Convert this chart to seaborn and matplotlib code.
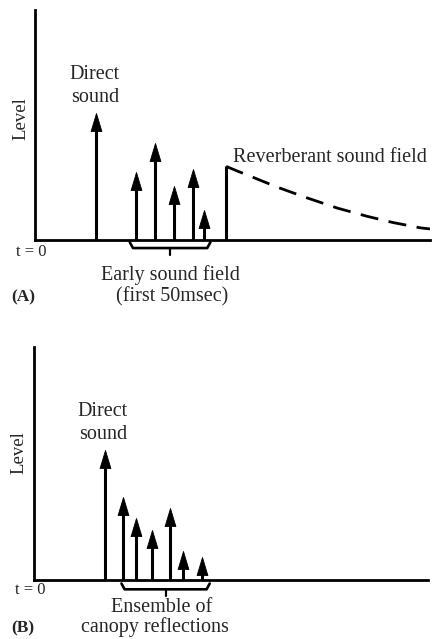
import numpy as np
import matplotlib
matplotlib.use("Agg")
import matplotlib.pyplot as plt
import matplotlib.transforms as mtransforms
from matplotlib.path import Path
import seaborn as sns

# ---- data (time and level in arbitrary units, 0-100) ----
# panel A
a_direct_t = [15.4]
a_direct_level = [55.0]
a_early_t = [25.6, 30.4, 35.2, 40.0, 42.8]
a_early_level = [29.6, 42.0, 23.5, 31.0, 13.0]
a_reverb_t = [48.4, 51.2, 53.7, 61.3, 68.9, 76.5, 84.1, 90.6, 97.5, 100.0]
a_reverb_level = [32.0, 30.0, 28.3, 23.0, 18.3, 13.9, 10.3, 7.6, 5.3, 4.8]

# panel B
b_direct_t = [18.0]
b_direct_level = [55.8]
b_early_t = [22.6, 25.9, 30.0, 34.5, 37.8, 42.6]
b_early_level = [35.6, 26.6, 21.5, 30.9, 12.4, 9.9]

W, H = 432, 639
DPI = 100

sns.set_style("white")
plt.rcParams["font.family"] = ["Liberation Serif", "DejaVu Serif"]

# tall arrowhead marker, tip at the origin
HEAD = Path([(0, 0), (-0.6, -2.0), (0.6, -2.0), (0, 0)],
            [Path.MOVETO, Path.LINETO, Path.LINETO, Path.CLOSEPOLY])


def px_axes(fig, left, top, right, bottom):
    return fig.add_axes([left / W, 1 - bottom / H, (right - left) / W, (bottom - top) / H])


def draw_arrows(ax, t, level):
    ax.vlines(t, 0, np.array(level) - 3, color="black", lw=2.2, zorder=3)
    sns.scatterplot(x=t, y=level, marker=HEAD, s=26 ** 2, color="black",
                    edgecolor="black", linewidth=0.6, ax=ax, zorder=4, legend=False)


def brace(ax, t0, t1, y, depth=0.025, tick=0.03):
    tr = mtransforms.blended_transform_factory(ax.transData, ax.transAxes)
    mid = (t0 + t1) / 2
    ax.plot([t0, t0 + 0.8, t1 - 0.8, t1], [y + depth, y, y, y + depth],
            color="black", lw=1.9, transform=tr, clip_on=False, solid_capstyle="round")
    ax.plot([mid, mid], [y, y - tick], color="black", lw=1.6, transform=tr, clip_on=False)


def style_axes(ax):
    ax.set_xlim(0, 100)
    ax.set_ylim(0, 100)
    for side in ["top", "right"]:
        ax.spines[side].set_visible(False)
    for side in ["left", "bottom"]:
        ax.spines[side].set_linewidth(2.0)
        ax.spines[side].set_color("black")
    ax.set_xticks([])
    ax.set_yticks([])
    ax.set_facecolor("none")


fig = plt.figure(figsize=(W / DPI, H / DPI), dpi=DPI)
fig.patch.set_facecolor("white")

# ---------------- panel A ----------------
axA = px_axes(fig, 35, 10, 430, 240)
style_axes(axA)
draw_arrows(axA, a_direct_t, a_direct_level)
draw_arrows(axA, a_early_t, a_early_level)
axA.vlines(a_reverb_t[0], 0, a_reverb_level[0], color="black", lw=2.2)
sns.lineplot(x=a_reverb_t, y=a_reverb_level, ax=axA, color="black", lw=2.0,
             dashes=False, linestyle=(0, (6.5, 3.8)), sort=False)
brace(axA, min(a_early_t) - 1.6, max(a_early_t) + 1.6, -0.035)

fs = 14.5
fig.text(95 / W, 1 - 86 / H, "Direct\nsound", ha="center", va="center",
         fontsize=fs, linespacing=1.25)
fig.text(21 / W, 1 - 119 / H, "Level", rotation=90, ha="center", va="center", fontsize=13.5)
fig.text(233 / W, 1 - 158 / H, "Reverberant sound field", ha="left", va="center", fontsize=fs)
fig.text(31 / W, 1 - 252 / H, "t = 0", ha="center", va="center", fontsize=12)
fig.text(170 / W, 1 - 275 / H, "Early sound field", ha="center", va="center", fontsize=fs)
fig.text(172 / W, 1 - 297 / H, "(first 50msec)", ha="center", va="center", fontsize=fs)
fig.text(23 / W, 1 - 297 / H, "(A)", ha="center", va="center", fontsize=12.5, fontweight="bold")

# ---------------- panel B ----------------
axB = px_axes(fig, 34, 347, 428, 580)
style_axes(axB)
draw_arrows(axB, b_direct_t, b_direct_level)
draw_arrows(axB, b_early_t, b_early_level)
brace(axB, min(b_early_t) - 0.4, max(b_early_t) + 2.0, -0.04)

fig.text(103 / W, 1 - 423 / H, "Direct\nsound", ha="center", va="center",
         fontsize=fs, linespacing=1.25)
fig.text(19 / W, 1 - 453 / H, "Level", rotation=90, ha="center", va="center", fontsize=13.5)
fig.text(30 / W, 1 - 590 / H, "t = 0", ha="center", va="center", fontsize=12)
fig.text(162 / W, 1 - 608 / H, "Ensemble of", ha="center", va="center", fontsize=fs)
fig.text(155 / W, 1 - 632 / H, "canopy reflections", ha="center", va="baseline", fontsize=fs)
fig.text(23 / W, 1 - 632 / H, "(B)", ha="center", va="baseline", fontsize=12.5, fontweight="bold")

fig.savefig("out.png", dpi=DPI)
